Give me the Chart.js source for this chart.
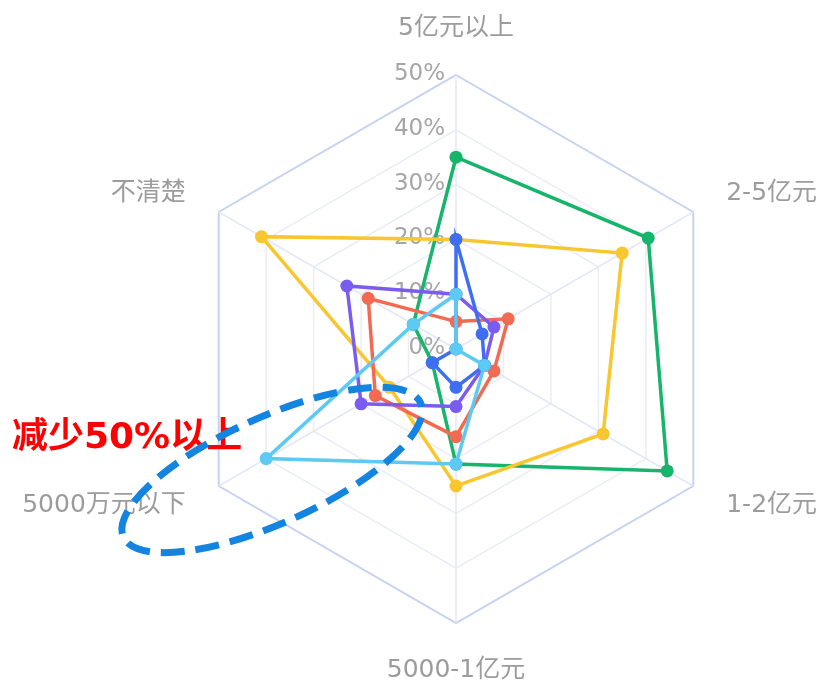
<!DOCTYPE html>
<html>
<head>
<meta charset="utf-8">
<script src="https://cdn.jsdelivr.net/npm/chart.js@4/dist/chart.umd.min.js"></script>
<style>
  html, body { margin: 0; padding: 0; background: #fff; }
  #chart { display: block; }
</style>
</head>
<body>
<canvas id="chart" width="826" height="684"></canvas>
<script>
// categories (clockwise from top)
const categories = ['5亿元以上', '2-5亿元', '1-2亿元', '5000-1亿元', '5000万元以下', '不清楚']

// series values, in %
const lightBlueVals = [10, 0, 6, 21, 40, 9]
const blueVals = [20, 5.5, 6, 7, 5, 0]
const purpleVals = [10, 8, 6, 10.5, 20, 23]
const redVals = [5, 11, 8, 16, 17, 18.5]
const yellowVals = [20, 35, 31, 25, 14, 41]
const greenVals = [35, 40.5, 44.5, 21, 5, 9]

// radial ticks
const tickValues = [0, 10, 20, 30, 40, 50]
const tickLabels = ['0%', '10%', '20%', '30%', '40%', '50%']

const annotationText = '减少50%以上'

const labelFont = "25px 'DejaVu Sans', 'Noto Sans CJK SC', sans-serif"
const tickFont = "23px 'DejaVu Sans', 'Noto Sans CJK SC', sans-serif"

function series(label, data, color) {
    return {
        label: label,
        data: data,
        borderColor: color,
        backgroundColor: color,
        pointBackgroundColor: color,
        pointBorderColor: color,
        borderWidth: 3.5,
        pointRadius: 6.5,
        pointBorderWidth: 0,
        fill: false,
        tension: 0
    }
}

// tick labels and category names, placed from the radial scale
const radarText = {
    id: 'radarText',
    beforeDatasetsDraw(chart) {
        const ctx = chart.ctx
        const r = chart.scales.r
        ctx.save()
        ctx.fillStyle = '#a6a6a6'
        ctx.font = tickFont
        ctx.textAlign = 'right'
        ctx.textBaseline = 'middle'
        tickValues.forEach((v, i) => {
            const y = r.yCenter - r.getDistanceFromCenterForValue(v)
            ctx.fillText(tickLabels[i], r.xCenter - 11, y - 1)
        })

        ctx.fillStyle = '#9c9c9c'
        ctx.font = labelFont
        ctx.textBaseline = 'middle'
        categories.forEach((name, i) => {
            const s = Math.sin(r.getIndexAngle(i))
            const side = Math.abs(s) > 0.01
            const p = r.getPointPosition(i, r.drawingArea + (side ? 38 : 47))
            ctx.textAlign = side ? (s > 0 ? 'left' : 'right') : 'center'
            ctx.fillText(name, p.x, p.y)
        })
        ctx.restore()
    }
}

// red note with the dashed ring round the lower-left corner
const note = {
    id: 'note',
    afterDraw(chart) {
        const ctx = chart.ctx
        ctx.save()
        ctx.fillStyle = '#ff0000'
        ctx.font = "bold 36px 'DejaVu Sans', 'Noto Sans CJK SC', sans-serif"
        ctx.textAlign = 'left'
        ctx.textBaseline = 'middle'
        ctx.fillText(annotationText, 12, 439)

        ctx.strokeStyle = '#1384e0'
        ctx.lineWidth = 7
        ctx.setLineDash([24, 11])
        ctx.lineDashOffset = 20
        ctx.beginPath()
        ctx.ellipse(272, 470, 163, 53, -24.3 * Math.PI / 180, 0, Math.PI * 2)
        ctx.stroke()
        ctx.restore()
    }
}

new Chart(document.getElementById('chart'), {
    type: 'radar',
    data: {
        labels: categories,
        datasets: [
            series('系列6', lightBlueVals, '#5ccaf2'),
            series('系列1', blueVals, '#3f6ff0'),
            series('系列2', purpleVals, '#7b5cf0'),
            series('系列3', redVals, '#f26a52'),
            series('系列4', yellowVals, '#f8c62e'),
            series('系列5', greenVals, '#17b46b')
        ]
    },
    options: {
        responsive: false,
        animation: false,
        devicePixelRatio: 1,
        layout: { padding: { left: 182, right: 96, top: 75, bottom: 61 } },
        plugins: {
            legend: { display: false },
            tooltip: { enabled: false }
        },
        scales: {
            r: {
                min: 0,
                max: 50,
                beginAtZero: true,
                ticks: { display: false, stepSize: 10 },
                pointLabels: { display: false },
                grid: {
                    color: c => c.index === tickValues.length - 1 ? '#c6d2f2' : '#eaedf7',
                    lineWidth: c => c.index === tickValues.length - 1 ? 2 : 1.5
                },
                angleLines: { color: '#e4e8f6', lineWidth: 1.5 }
            }
        }
    },
    plugins: [radarText, note]
})
</script>
</body>
</html>
